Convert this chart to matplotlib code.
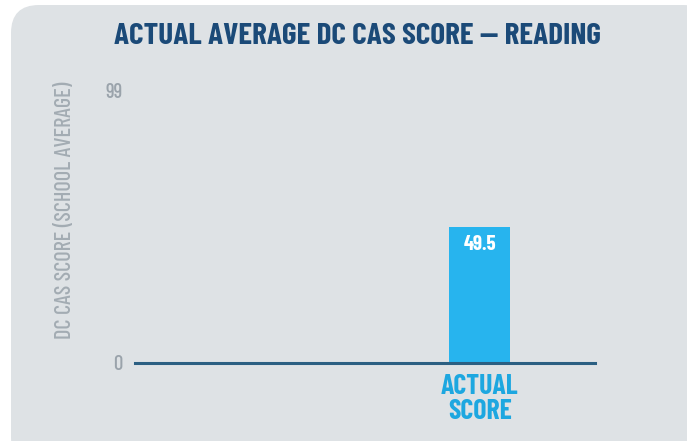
import matplotlib.pyplot as plt
from matplotlib.patches import FancyBboxPatch

categories = ["ACTUAL\nSCORE"]
values = [49.5]
y_ticks = [0, 99]

plt.rcParams['font.family'] = ['Barlow Condensed', 'DejaVu Sans']
plt.rcParams['font.stretch'] = 'condensed'

fig = plt.figure(figsize=(6.87, 4.41), dpi=100)
fig.patch.set_facecolor("white")

# rounded grey card behind the chart
bg = fig.add_axes([0, 0, 1, 1], zorder=-1)
bg.set_axis_off()
bg.set_xlim(0, 687)
bg.set_ylim(441, 0)
bg.add_patch(FancyBboxPatch((11, 5), 700, 460,
                            boxstyle="round,pad=0,rounding_size=28",
                            facecolor="#dee2e5", edgecolor="none"))

ax = fig.add_axes([135 / 687, 1 - 363 / 441, 460 / 687, 273 / 441])
ax.patch.set_alpha(0)

bars = ax.bar(range(len(values)), values, width=0.8, color="#27b4ee", zorder=2)
for b, v in zip(bars, values):
    ax.text(b.get_x() + b.get_width() / 2, v - 3, f"{v}", ha="center", va="top",
            color="white", fontsize=15, fontweight="bold")

ax.set_xlim(-4.52, 1.51)
ax.set_ylim(0, 99)
ax.set_yticks(y_ticks)
ax.set_yticklabels([str(t) for t in y_ticks], color="#9aa3ab", fontsize=15,
                   fontweight="medium")
ax.set_xticks(range(len(categories)))
ax.set_xticklabels(categories, color="#1da7e0", fontsize=20, fontweight="bold",
                   linespacing=1.0)
ax.tick_params(axis="both", length=0)
ax.tick_params(axis="y", pad=9)
ax.tick_params(axis="x", pad=8)

for s in ["top", "right", "left"]:
    ax.spines[s].set_visible(False)
ax.spines["bottom"].set_color("#2b5f82")
ax.spines["bottom"].set_linewidth(2.2)

fig.text(357 / 687, 1 - 36 / 441, "ACTUAL AVERAGE DC CAS SCORE — READING",
         ha="center", va="center", color="#1b4a78", fontsize=22.5, fontweight="bold")
fig.text(65 / 687, 1 - 210 / 441, "DC CAS SCORE (SCHOOL AVERAGE)",
         ha="center", va="center", rotation=90, color="#a3acb3", fontsize=16,
         fontweight="medium")

fig.savefig("out.png", dpi=100)
